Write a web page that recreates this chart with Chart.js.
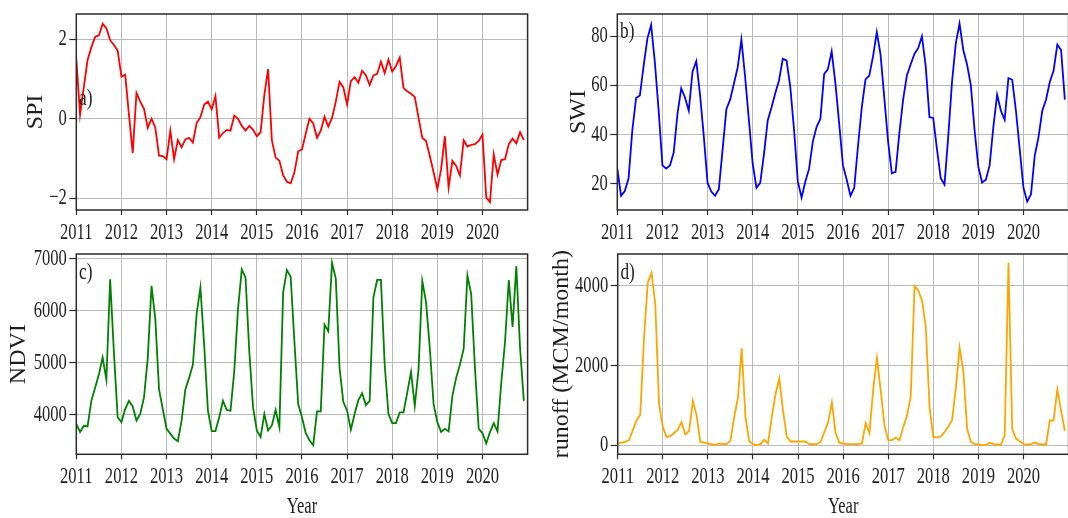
<!DOCTYPE html>
<html>
<head>
<meta charset="utf-8">
<script src="https://cdn.jsdelivr.net/npm/chart.js@4/dist/chart.umd.min.js"></script>
<style>
  html, body { margin: 0; padding: 0; background: #fff; overflow: hidden; width: 1068px; height: 518px; }
  canvas { position: absolute; }
</style>
</head>
<body>
<canvas id="spi" width="531" height="240" style="left:0;top:0"></canvas>
<canvas id="swi" width="531" height="240" style="left:541px;top:0"></canvas>
<canvas id="ndvi" width="531" height="278" style="left:0;top:240px"></canvas>
<canvas id="runoff" width="531" height="278" style="left:541px;top:240px"></canvas>
<script>
// Monthly series, January 2011 to December 2020 (index = months since Jan 2011)
const yearLabels = ['2011', '2012', '2013', '2014', '2015', '2016', '2017', '2018', '2019', '2020'];

const spi = [
  1.52, 0.10, 0.80, 1.48, 1.80, 2.06, 2.10, 2.39, 2.28, 1.98, 1.86, 1.72,
  1.06, 1.11, 0.10, -0.86, 0.65, 0.43, 0.25, -0.23, 0.00, -0.22, -0.93, -0.94,
  -1.02, -0.30, -1.02, -0.54, -0.72, -0.52, -0.48, -0.60, -0.11, 0.04, 0.36, 0.43,
  0.24, 0.57, -0.48, -0.36, -0.28, -0.30, 0.08, 0.00, -0.18, -0.30, -0.18, -0.28,
  -0.44, -0.34, 0.60, 1.25, -0.54, -0.98, -1.06, -1.43, -1.59, -1.63, -1.35, -0.82,
  -0.78, -0.38, 0.00, -0.12, -0.48, -0.30, 0.05, -0.20, 0.02, 0.43, 0.93, 0.79,
  0.36, 0.95, 1.05, 0.91, 1.21, 1.10, 0.85, 1.09, 1.13, 1.44, 1.15, 1.49,
  1.19, 1.33, 1.54, 0.78, 0.69, 0.63, 0.55, 0.02, -0.48, -0.56, -0.94, -1.35,
  -1.77, -1.27, -0.44, -1.73, -1.06, -1.19, -1.43, -0.54, -0.70, -0.66, -0.64, -0.56,
  -0.40, -1.98, -2.10, -0.90, -1.41, -1.04, -1.02, -0.64, -0.50, -0.62, -0.34, -0.54
];

const swi = [
  26.2, 15.2, 17.1, 22.3, 41.9, 54.9, 55.9, 67.9, 79.0, 84.6, 69.2, 49.7,
  27.5, 26.2, 27.5, 32.7, 48.4, 58.8, 55.1, 49.7, 65.6, 69.8, 56.2, 39.3,
  20.4, 16.9, 15.2, 17.8, 34.0, 50.3, 54.2, 60.7, 67.2, 78.6, 63.3, 45.8,
  28.2, 18.4, 20.4, 32.1, 45.8, 51.0, 56.8, 62.0, 70.8, 70.2, 59.4, 41.9,
  21.0, 14.5, 21.0, 26.2, 37.3, 43.2, 46.4, 64.6, 66.6, 73.8, 60.7, 44.5,
  27.5, 21.7, 15.2, 18.4, 35.4, 51.0, 62.4, 64.0, 71.8, 81.6, 72.5, 54.9,
  37.3, 24.3, 24.9, 40.6, 54.2, 64.0, 68.5, 72.8, 75.1, 79.9, 67.9, 47.1,
  46.8, 34.1, 22.3, 19.7, 39.3, 61.4, 77.0, 85.1, 74.4, 68.5, 60.1, 41.9,
  26.9, 20.6, 21.7, 27.5, 43.2, 56.2, 49.7, 46.0, 63.0, 62.3, 49.7, 34.1,
  18.4, 12.8, 15.8, 31.5, 39.0, 49.7, 54.2, 61.4, 65.9, 76.6, 74.4, 54.2
];

const ndvi = [
  3823, 3665, 3785, 3773, 4265, 4518, 4770, 5099, 4676, 6603, 5200, 3950,
  3855, 4107, 4265, 4158, 3886, 4013, 4328, 5087, 6476, 5845, 4486, 4107,
  3728, 3634, 3539, 3488, 3886, 4486, 4707, 4960, 5940, 6445, 5339, 4076,
  3684, 3684, 3950, 4265, 4088, 4076, 4834, 6034, 6792, 6634, 5213, 4139,
  3697, 3570, 4013, 3697, 3792, 4088, 3760, 6350, 6780, 6653, 5402, 4202,
  3950, 3646, 3507, 3412, 4063, 4063, 5731, 5605, 6919, 6615, 4897, 4246,
  4076, 3709, 4013, 4278, 4411, 4183, 4265, 6255, 6590, 6590, 4960, 4013,
  3836, 3836, 4044, 4044, 4423, 4821, 4170, 4865, 6571, 6160, 5276, 4202,
  3855, 3665, 3728, 3678, 4360, 4707, 4960, 5263, 6678, 6318, 4897, 3728,
  3646, 3444, 3665, 3836, 3678, 4613, 5402, 6590, 5687, 6855, 5276, 4265
];

const runoff = [
  41, 66, 82, 124, 371, 619, 767, 2680, 4082, 4330, 3546, 1031,
  454, 206, 223, 305, 388, 577, 272, 355, 1113, 742, 82, 66,
  41, 25, 0, 41, 25, 25, 107, 701, 1196, 2433, 701, 99,
  25, 0, 25, 140, 41, 701, 1278, 1674, 866, 206, 91, 91,
  91, 91, 91, 25, 25, 25, 82, 330, 577, 1072, 305, 58,
  41, 25, 25, 25, 25, 41, 553, 305, 1402, 2186, 1361, 495,
  124, 124, 190, 124, 454, 742, 1237, 4000, 3876, 3629, 2969, 948,
  206, 190, 223, 330, 470, 635, 1443, 2449, 1839, 412, 82, 25,
  25, 0, 0, 58, 25, 16, 8, 247, 4577, 412, 165, 99,
  25, 16, 25, 66, 25, 16, 16, 619, 619, 1402, 866, 355
];

const spiTicks = [-2, 0, 2];
const swiTicks = [20, 40, 60, 80];
const ndviTicks = [4000, 5000, 6000, 7000];
const runoffTicks = [0, 2000, 4000];

// ---- styling ----
const FONT = '"Liberation Serif", "Times New Roman", serif';
const TEXT = '#1e1e1e';
const GRID = '#bababa';
const NARROW = 0.72;   // horizontal compression of upright text

// Upright labels are drawn condensed; rotated axis titles keep their natural width.
const narrowText = {
  id: 'narrowText',
  beforeInit(chart) {
    const ctx = chart.ctx;
    const fill = ctx.fillText.bind(ctx);
    ctx.fillText = function (text, x, y) {
      const t = ctx.getTransform();
      if (Math.abs(t.b) > 1e-6) { fill(text, x, y); return; }
      ctx.save();
      ctx.translate(x, y);
      ctx.scale(NARROW, 1);
      fill(text, 0, 0);
      ctx.restore();
    };
  }
};

// Full box around the plotting area
const frame = {
  id: 'frame',
  afterDatasetsDraw(chart) {
    const { ctx, chartArea: a } = chart;
    ctx.save();
    ctx.strokeStyle = '#2b2b2b';
    ctx.lineWidth = 1.5;
    ctx.strokeRect(a.left, a.top, a.right - a.left, a.bottom - a.top);
    ctx.restore();
  }
};

// Panel letter inside the axes
const panelTag = {
  id: 'panelTag',
  afterDatasetsDraw(chart, args, opts) {
    const { ctx, chartArea: a } = chart;
    ctx.save();
    ctx.font = '24px ' + FONT;
    ctx.fillStyle = TEXT;
    ctx.textAlign = 'left';
    ctx.textBaseline = 'alphabetic';
    ctx.fillText(opts.text, a.left + opts.dx, a.top + opts.dy);
    ctx.restore();
  }
};

const fmt = v => (v < 0 ? '\u2212' + Math.abs(v) : String(v));

function makePanel(id, values, color, cfg) {
  new Chart(document.getElementById(id), {
    type: 'line',
    data: {
      datasets: [{
        data: values.map((v, i) => ({ x: i, y: v })),
        borderColor: color,
        borderWidth: 1.8,
        pointRadius: 0,
        tension: 0,
        fill: false
      }]
    },
    options: {
      responsive: false,
      animation: false,
      devicePixelRatio: 1,
      layout: { autoPadding: false, padding: { left: 0, top: cfg.top, right: 3.4, bottom: 0 } },
      plugins: {
        legend: { display: false },
        tooltip: { enabled: false },
        panelTag: { text: cfg.tag, dx: 2.7, dy: cfg.tagY }
      },
      scales: {
        x: {
          type: 'linear',
          min: 0,
          max: 120,
          afterBuildTicks: s => { s.ticks = yearLabels.map((_, i) => ({ value: i * 12 })); },
          afterFit: s => { s.height = cfg.xHeight; },
          ticks: {
            callback: (v, i) => yearLabels[i],
            autoSkip: false,
            maxRotation: 0,
            padding: 6,
            color: TEXT,
            font: { family: FONT, size: 23, lineHeight: 1 }
          },
          grid: { color: GRID, lineWidth: 1, tickLength: 5, tickColor: '#2b2b2b', tickWidth: 1.2 },
          border: { display: false },
          title: cfg.xTitle
            ? { display: true, text: cfg.xTitle, color: TEXT, font: { family: FONT, size: 23, lineHeight: 1 }, padding: { top: 0, bottom: 0 } }
            : { display: false }
        },
        y: {
          type: 'linear',
          min: cfg.yMin,
          max: cfg.yMax,
          afterBuildTicks: s => { s.ticks = cfg.yTicks.map(v => ({ value: v })); },
          afterFit: s => { s.width = cfg.yWidth; },
          ticks: {
            callback: v => fmt(v),
            padding: 2.5,
            color: TEXT,
            font: { family: FONT, size: 23, lineHeight: 1 }
          },
          grid: { color: GRID, lineWidth: 1, tickLength: 7, tickColor: '#2b2b2b', tickWidth: 1.2 },
          border: { display: false },
          title: {
            display: true,
            text: cfg.yTitle,
            color: TEXT,
            font: { family: FONT, size: 24, lineHeight: 1.2 },
            padding: { top: cfg.yTitlePad, bottom: 0 }
          }
        }
      }
    },
    plugins: [narrowText, frame, panelTag]
  });
}

makePanel('spi', spi, '#ff0000', {
  top: 6, xHeight: 30, yWidth: 76.3, yMin: -2.30, yMax: 2.64, yTicks: spiTicks,
  yTitle: 'SPI', yTitlePad: 21, tag: 'a)', tagY: 91
});
makePanel('swi', swi, '#0000ff', {
  top: 6, xHeight: 30, yWidth: 76.3, yMin: 9.4, yMax: 89, yTicks: swiTicks,
  yTitle: 'SWI', yTitlePad: 23.6, tag: 'b)', tagY: 24
});
makePanel('ndvi', ndvi, '#008000', {
  top: 11, xHeight: 63.7, yWidth: 76.3, yMin: 3237, yMax: 7089, yTicks: ndviTicks,
  yTitle: 'NDVI', yTitlePad: 4.6, tag: 'c)', tagY: 25, xTitle: 'Year'
});
makePanel('runoff', runoff, '#ffa500', {
  top: 11, xHeight: 63.7, yWidth: 76.7, yMin: -230, yMax: 4800, yTicks: runoffTicks,
  yTitle: 'runoff (MCM/month)', yTitlePad: 6.6, tag: 'd)', tagY: 25, xTitle: 'Year'
});
</script>
</body>
</html>
